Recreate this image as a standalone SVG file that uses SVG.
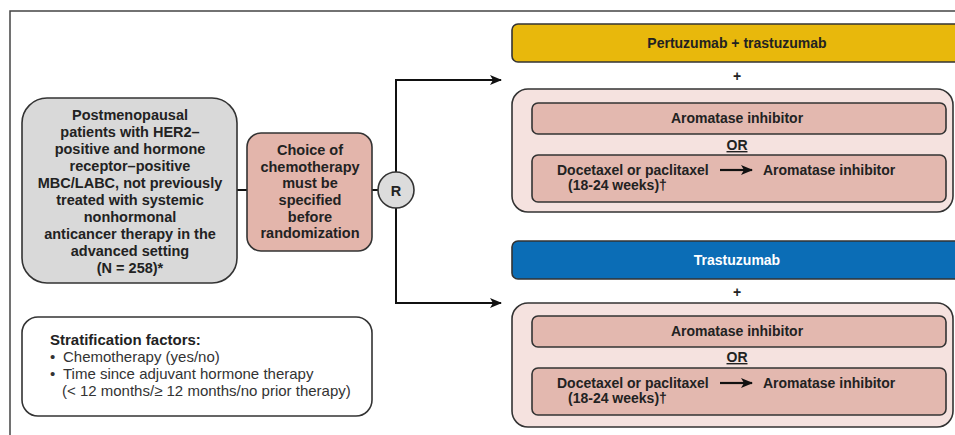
<svg xmlns="http://www.w3.org/2000/svg" width="955" height="435" viewBox="0 0 955 435">
<defs>
<style>
.b{font-family:"Liberation Sans",Arial,sans-serif;font-weight:bold;font-size:14.5px;fill:#222;text-anchor:middle}
.r{font-family:"Liberation Sans",Arial,sans-serif;font-size:15px;fill:#333}
.s{stroke:#333;stroke-width:1.6}
.ln{fill:none;stroke:#111;stroke-width:2}
</style>
<marker id="ah" viewBox="0 0 12 10" refX="11" refY="5" markerWidth="12" markerHeight="10" markerUnits="userSpaceOnUse" orient="auto">
<path d="M0,0 L12,5 L0,10 L3,5 Z" fill="#111"/>
</marker>
</defs>
<rect width="955" height="435" fill="#fff"/>
<path d="M10,435 V11 H955" fill="none" stroke="#444" stroke-width="1.5"/>

<g id="connectors">
<line class="ln" x1="237" y1="190" x2="247" y2="190"/>
<line class="ln" x1="372" y1="190" x2="378" y2="190"/>
<path class="ln" d="M396,172 V80 H501" marker-end="url(#ah)"/>
<path class="ln" d="M396,208 V303 H501" marker-end="url(#ah)"/>
</g>

<g id="population">
<rect class="s" x="22" y="98" width="215" height="185" rx="25" fill="#D9D9D9"/>
<text class="b" x="130" y="120">Postmenopausal</text>
<text class="b" x="130" y="137">patients with HER2–</text>
<text class="b" x="130" y="154">positive and hormone</text>
<text class="b" x="130" y="171">receptor–positive</text>
<text class="b" x="130" y="188">MBC/LABC, not previously</text>
<text class="b" x="130" y="205">treated with systemic</text>
<text class="b" x="130" y="222">nonhormonal</text>
<text class="b" x="130" y="239">anticancer therapy in the</text>
<text class="b" x="130" y="256">advanced setting</text>
<text class="b" x="130" y="273">(N = 258)*</text>
</g>

<g id="choice">
<rect class="s" x="247" y="133" width="125" height="118" rx="14" fill="#E3B5AB"/>
<text class="b" x="310" y="155">Choice of</text>
<text class="b" x="310" y="172">chemotherapy</text>
<text class="b" x="310" y="188">must be</text>
<text class="b" x="310" y="205">specified</text>
<text class="b" x="310" y="222">before</text>
<text class="b" x="310" y="238">randomization</text>
</g>

<g id="randomize">
<circle class="s" cx="396" cy="190" r="18" fill="#DCDCDC"/>
<text class="b" x="396" y="195.5">R</text>
</g>

<g id="stratification">
<rect class="s" x="22" y="317" width="350" height="99" rx="16" fill="#fff"/>
<text class="r" x="50" y="345" style="font-weight:bold;fill:#222">Stratification factors:</text>
<text class="r" x="50" y="362">•</text>
<text class="r" x="63" y="362">Chemotherapy (yes/no)</text>
<text class="r" x="50" y="379">•</text>
<text class="r" x="63" y="379">Time since adjuvant hormone therapy</text>
<text class="r" x="62" y="396">(&lt; 12 months/≥ 12 months/no prior therapy)</text>
</g>

<g id="arm1-header">
<rect class="s" x="512" y="24" width="450" height="38" rx="6" fill="#E8B80C"/>
<text class="b" x="737" y="48" style="font-size:14px">Pertuzumab + trastuzumab</text>
<text class="b" x="737" y="81" style="font-size:14px">+</text>
</g>

<g id="arm1-options">
<rect class="s" x="512" y="89" width="441" height="123" rx="16" fill="#F5E2DF"/>
<rect class="s" x="532" y="103" width="414" height="31" rx="6" fill="#E3B8AF"/>
<text class="b" x="737" y="123" style="font-size:14px">Aromatase inhibitor</text>
<text class="b" x="737" y="150" style="font-size:14px;text-decoration:underline">OR</text>
<rect class="s" x="532" y="155" width="414" height="47" rx="6" fill="#E3B8AF"/>
<text class="b" x="557" y="175" style="font-size:14px;text-anchor:start">Docetaxel or paclitaxel</text>
<text class="b" x="568" y="190" style="font-size:14px;text-anchor:start">(18-24 weeks)†</text>
<line x1="720" y1="170" x2="752" y2="170" stroke="#111" stroke-width="2.2" marker-end="url(#ah)"/>
<text class="b" x="763" y="175" style="font-size:14px;text-anchor:start">Aromatase inhibitor</text>
</g>

<g id="arm2-header">
<rect class="s" x="512" y="241" width="450" height="38" rx="6" fill="#0B6DB6"/>
<text class="b" x="737" y="265" style="font-size:14px;fill:#fff">Trastuzumab</text>
<text class="b" x="737" y="297" style="font-size:14px">+</text>
</g>

<g id="arm2-options">
<rect class="s" x="512" y="303" width="441" height="124" rx="16" fill="#F5E2DF"/>
<rect class="s" x="532" y="316" width="414" height="31" rx="6" fill="#E3B8AF"/>
<text class="b" x="737" y="336" style="font-size:14px">Aromatase inhibitor</text>
<text class="b" x="737" y="362" style="font-size:14px;text-decoration:underline">OR</text>
<rect class="s" x="532" y="368" width="414" height="47" rx="6" fill="#E3B8AF"/>
<text class="b" x="557" y="388" style="font-size:14px;text-anchor:start">Docetaxel or paclitaxel</text>
<text class="b" x="568" y="403" style="font-size:14px;text-anchor:start">(18-24 weeks)†</text>
<line x1="720" y1="383" x2="752" y2="383" stroke="#111" stroke-width="2.2" marker-end="url(#ah)"/>
<text class="b" x="763" y="388" style="font-size:14px;text-anchor:start">Aromatase inhibitor</text>
</g>
</svg>
